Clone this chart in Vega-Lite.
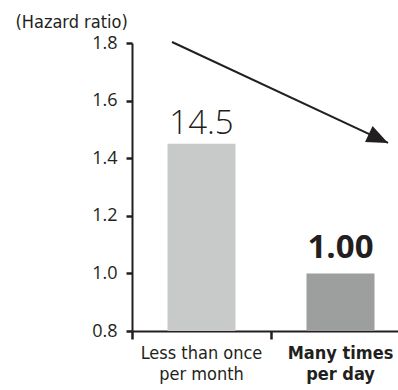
{
  "$schema": "https://vega.github.io/schema/vega-lite/v6.json",
  "autosize": "none",
  "width": 266,
  "height": 288,
  "padding": {"left": 132, "top": 43, "right": 0, "bottom": 59},
  "background": "white",
  "config": {
    "view": {"stroke": null},
    "axis": {"domainColor": "#231f20", "tickColor": "#231f20", "labelColor": "#231f20", "titleColor": "#231f20", "grid": false, "domainWidth": 2, "tickWidth": 2.5}
  },
  "datasets": {
    "bars": [
      {"category": "Less than once per month", "hr": 1.45, "label": "14.5"},
      {"category": "Many times per day", "hr": 1.0, "label": "1.00"}
    ],
    "arrow": [
      {"x": 0.288, "y": 1.8035, "x2": 1.842, "y2": 1.453}
    ]
  },
  "resolve": {"scale": {"x": "independent"}, "axis": {"x": "independent"}},
  "layer": [
    {
      "data": {"name": "bars"},
      "layer": [
        {
          "mark": {"type": "bar", "width": 68},
          "encoding": {
            "x": {
              "field": "category", "type": "nominal", "sort": null,
              "scale": {"range": [0, 278], "paddingInner": 0, "paddingOuter": 0},
              "axis": {
                "title": null,
                "labelAngle": 0,
                "bandPosition": 0,
                "tickSize": 8,
                "labelPadding": 5,
                "labelFont": "DejaVu Sans Condensed",
                "labelFontSize": 18,
                "labelLineHeight": 21,
                "labelBaseline": "top",
                "labelExpr": "datum.value == 'Less than once per month' ? ['Less than once', 'per month'] : ['Many times', 'per day']",
                "labelFontWeight": {"condition": {"test": "datum.value == 'Many times per day'", "value": "bold"}, "value": "normal"}
              }
            },
            "y": {
              "field": "hr", "type": "quantitative",
              "scale": {"domain": [0.8, 1.8], "zero": false, "nice": false},
              "axis": {
                "values": [0.8, 1.0, 1.2, 1.4, 1.6, 1.8],
                "format": ".1f",
                "tickSize": 6,
                "labelPadding": 9,
                "labelFont": "Open Sans",
                "labelFontSize": 18,
                "title": "(Hazard ratio)",
                "titleAngle": 0,
                "titleAlign": "left",
                "titleBaseline": "alphabetic",
                "titleX": -117,
                "titleY": -16,
                "titleFont": "DejaVu Sans Condensed",
                "titleFontSize": 18,
                "titleFontWeight": "normal"
              }
            },
            "y2": {"datum": 0.8},
            "color": {
              "field": "category", "type": "nominal", "legend": null,
              "scale": {"domain": ["Less than once per month", "Many times per day"], "range": ["#c8c9c9", "#9d9e9e"]}
            }
          }
        },
        {
          "transform": [{"filter": "datum.category == 'Less than once per month'"}],
          "mark": {"type": "text", "font": "Open Sans", "fontSize": 33, "fontWeight": 300, "baseline": "alphabetic", "dy": -10, "color": "#231f20"},
          "encoding": {
            "x": {"field": "category", "type": "nominal", "sort": null},
            "y": {"field": "hr", "type": "quantitative"},
            "text": {"field": "label"}
          }
        },
        {
          "transform": [{"filter": "datum.category == 'Many times per day'"}],
          "mark": {"type": "text", "font": "Open Sans", "fontSize": 33, "fontWeight": "bold", "baseline": "alphabetic", "dy": -15, "color": "#231f20"},
          "encoding": {
            "x": {"field": "category", "type": "nominal", "sort": null},
            "y": {"field": "hr", "type": "quantitative"},
            "text": {"field": "label"}
          }
        }
      ]
    },
    {
      "data": {"name": "arrow"},
      "layer": [
        {
          "mark": {"type": "rule", "color": "#231f20", "strokeWidth": 2},
          "encoding": {
            "x": {"field": "x", "type": "quantitative", "scale": {"domain": [0, 2], "range": [0, 278], "zero": false, "nice": false}, "axis": null},
            "y": {"field": "y", "type": "quantitative"},
            "x2": {"field": "x2"},
            "y2": {"field": "y2"}
          }
        },
        {
          "mark": {"type": "point", "filled": true, "color": "#231f20", "opacity": 1, "shape": "M0,0 L-1,-0.42 L-1,0.42 Z", "size": 1800, "angle": 25},
          "encoding": {
            "x": {"field": "x2", "type": "quantitative"},
            "y": {"field": "y2", "type": "quantitative"}
          }
        }
      ]
    }
  ]
}
